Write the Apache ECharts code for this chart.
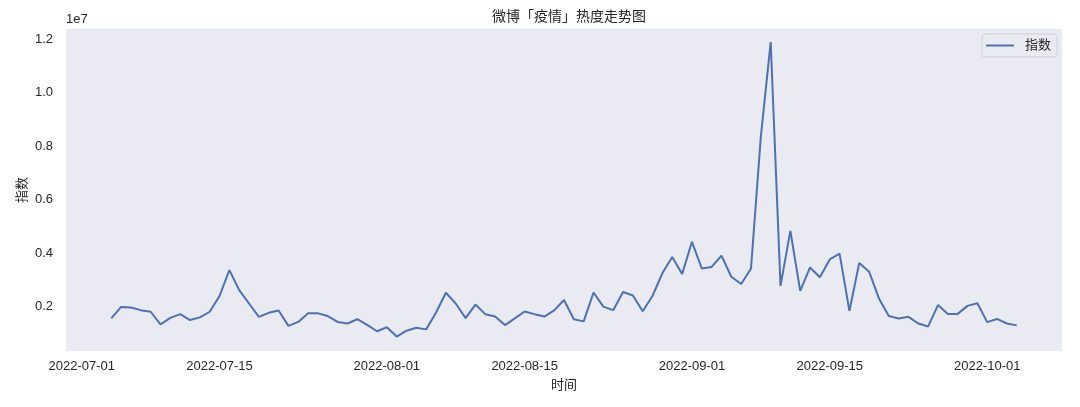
<!DOCTYPE html>
<html>
<head>
<meta charset="utf-8">
<title>微博「疫情」热度走势图</title>
<script src="https://cdn.jsdelivr.net/npm/echarts@6/dist/echarts.min.js"></script>
<style>
  html, body { margin: 0; padding: 0; background: #fff; }
  #chart { width: 1080px; height: 407px; }
</style>
</head>
<body>
<div id="chart"></div>
<script>
// first day of the series, one value per day after it
const startDate = '2022-07-04'

// daily heat index (raw values, axis shows them in units of 1e7)
const values = [
  1550000, 1980000, 1960000, 1860000, 1800000, 1330000, 1570000, 1710000, 1490000, 1590000,
  1800000, 2390000, 3360000, 2610000, 2110000, 1610000, 1760000, 1850000, 1270000, 1420000,
  1740000, 1740000, 1640000, 1420000, 1360000, 1520000, 1310000, 1070000, 1220000, 870000,
  1090000, 1200000, 1140000, 1770000, 2510000, 2110000, 1560000, 2070000, 1710000, 1620000,
  1300000, 1550000, 1810000, 1710000, 1620000, 1850000, 2240000, 1520000, 1440000, 2520000,
  1990000, 1860000, 2540000, 2410000, 1820000, 2400000, 3250000, 3850000, 3210000, 4420000,
  3420000, 3480000, 3900000, 3110000, 2840000, 3420000, 8360000, 11900000, 2770000, 4830000,
  2580000, 3460000, 3090000, 3760000, 3980000, 1830000, 3630000, 3300000, 2300000, 1640000,
  1550000, 1610000, 1360000, 1250000, 2050000, 1720000, 1720000, 2020000, 2120000, 1410000,
  1530000, 1360000, 1290000
]

const xTicks = ['2022-07-01', '2022-07-15', '2022-08-01', '2022-08-15', '2022-09-01', '2022-09-15', '2022-10-01']
const yTicks = [2000000, 4000000, 6000000, 8000000, 10000000, 12000000]

const seriesName = '指数'
const xName = '时间'
const chartTitle = '微博「疫情」热度走势图'

const DAY = 24 * 3600 * 1000
const FONT = "'Liberation Sans', 'Noto Sans CJK SC', sans-serif"
const TEXT = '#262626'

function toTime (s) {
  const p = s.split('-').map(Number)
  return new Date(p[0], p[1] - 1, p[2]).getTime()
}

function pad (n) {
  return n < 10 ? '0' + n : '' + n
}

function fmtDate (v) {
  const d = new Date(v)
  return d.getFullYear() + '-' + pad(d.getMonth() + 1) + '-' + pad(d.getDate())
}

const t0 = toTime(startDate)
const data = values.map((v, i) => [t0 + i * DAY, v])
const t1 = data[data.length - 1][0]
// matplotlib style 5% margins on the x range
const xMin = t0 - 0.05 * (t1 - t0)
const xMax = t1 + 0.05 * (t1 - t0)

const chart = echarts.init(document.getElementById('chart'))
chart.setOption({
  animation: false,
  textStyle: { fontFamily: FONT, color: TEXT },
  title: {
    text: chartTitle,
    left: 564,
    top: 5,
    textAlign: 'center',
    textStyle: { fontFamily: FONT, fontSize: 14, fontWeight: 'normal', color: TEXT }
  },
  grid: {
    left: 66,
    right: 18,
    top: 29,
    bottom: 56,
    show: true,
    backgroundColor: '#eaeaf2',
    borderWidth: 0
  },
  legend: {
    right: 23,
    top: 34,
    padding: [5, 6, 5, 4],
    icon: 'rect',
    itemWidth: 28,
    itemHeight: 2,
    backgroundColor: '#eaeaf2',
    borderColor: '#cfcfd6',
    borderWidth: 1,
    borderRadius: 3,
    textStyle: { fontFamily: FONT, fontSize: 13, color: TEXT, padding: [0, 0, 0, 6] },
    data: [seriesName]
  },
  xAxis: {
    type: 'value',
    min: xMin,
    max: xMax,
    name: xName,
    nameLocation: 'middle',
    nameGap: 28,
    nameMoveOverlap: false,
    nameTextStyle: { fontFamily: FONT, fontSize: 13, color: TEXT },
    axisLine: { show: false },
    axisTick: { show: false },
    splitLine: { show: false },
    axisLabel: {
      customValues: xTicks.map(toTime),
      margin: 9,
      fontSize: 13,
      color: TEXT,
      fontFamily: FONT,
      showMinLabel: true,
      showMaxLabel: true,
      formatter: v => fmtDate(v)
    }
  },
  yAxis: {
    type: 'value',
    min: 330000,
    max: 12390000,
    name: seriesName,
    nameLocation: 'middle',
    nameRotate: 90,
    nameGap: 37,
    nameMoveOverlap: false,
    nameTextStyle: { fontFamily: FONT, fontSize: 13, color: TEXT },
    axisLine: { show: false },
    axisTick: { show: false },
    splitLine: { show: false },
    axisLabel: {
      customValues: yTicks,
      margin: 13,
      fontSize: 13,
      color: TEXT,
      fontFamily: FONT,
      formatter: v => (v / 1e7).toFixed(1)
    }
  },
  graphic: [{
    type: 'text',
    left: 66,
    top: 13,
    style: { text: '1e7', font: '13px ' + FONT, fill: TEXT }
  }],
  series: [{
    name: seriesName,
    type: 'line',
    symbol: 'none',
    data: data,
    lineStyle: { color: '#4c72b0', width: 2 },
    itemStyle: { color: '#4c72b0' }
  }]
})
</script>
</body>
</html>
